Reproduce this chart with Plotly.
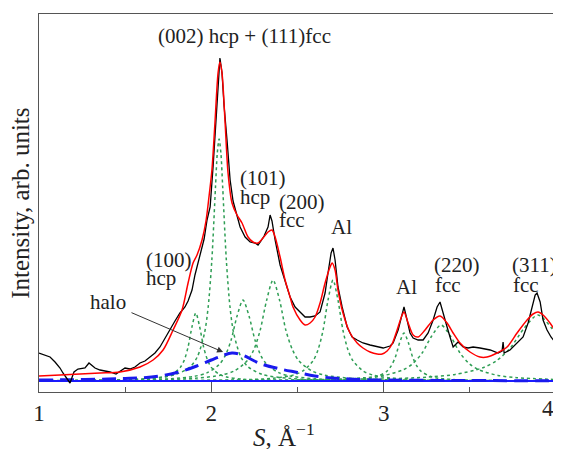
import plotly.graph_objects as go

# experimental pattern (black)
exp_s = [1.000, 1.035, 1.064, 1.093, 1.122, 1.139, 1.157, 1.180, 1.203, 1.226, 1.267, 1.290, 1.325, 1.354,
         1.383, 1.412, 1.447, 1.470, 1.499, 1.528, 1.557, 1.586, 1.615, 1.644, 1.673, 1.702, 1.731, 1.760,
         1.789, 1.818, 1.847, 1.865, 1.888, 1.905, 1.923, 1.940, 1.958, 1.975, 1.993, 2.010, 2.027, 2.039,
         2.050, 2.062, 2.074, 2.091, 2.109, 2.126, 2.143, 2.167, 2.196, 2.225, 2.254, 2.271, 2.288, 2.306,
         2.329, 2.341, 2.352, 2.370, 2.399, 2.428, 2.457, 2.486, 2.515, 2.544, 2.573, 2.602, 2.631, 2.660,
         2.677, 2.695, 2.706, 2.718, 2.735, 2.759, 2.788, 2.817, 2.846, 2.880, 2.921, 2.962, 2.997, 3.037,
         3.055, 3.084, 3.107, 3.118, 3.136, 3.153, 3.171, 3.200, 3.229, 3.258, 3.287, 3.310, 3.327, 3.345,
         3.368, 3.385, 3.403, 3.432, 3.461, 3.490, 3.519, 3.559, 3.618, 3.664, 3.687, 3.693, 3.699, 3.733,
         3.774, 3.809, 3.838, 3.861, 3.879, 3.890, 3.908, 3.925, 3.948, 3.971, 4.000]
exp_i = [28, 26, 24, 19, 13, 8, 3, -2, 9, 12, 13, 18, 13, 11,
         10, 9, 7, 10, 13, 12, 14, 18, 20, 24, 28, 34, 43, 51,
         60, 68, 74, 80, 91, 106, 118, 132, 142, 161, 174, 214, 262, 300,
         323, 308, 275, 241, 201, 180, 168, 154, 144, 139, 138, 136, 140, 145,
         154, 166, 160, 141, 116, 101, 84, 74, 69, 64, 64, 65, 69, 88,
         108, 128, 133, 121, 94, 74, 54, 44, 41, 38, 36, 34, 33, 35,
         38, 51, 68, 74, 61, 48, 43, 41, 41, 48, 61, 74, 79, 69,
         54, 44, 34, 39, 34, 33, 34, 33, 31, 28, 30, 39, 28, 31,
         38, 44, 58, 74, 86, 88, 79, 61, 51, 44, 38]

# total fit (red)
fit_s = [1.000, 1.122, 1.238, 1.354, 1.470, 1.586, 1.662, 1.720, 1.778, 1.830, 1.865, 1.894, 1.917, 1.946,
         1.969, 1.987, 2.004, 2.021, 2.039, 2.050, 2.062, 2.080, 2.097, 2.120, 2.149, 2.178, 2.213, 2.242,
         2.271, 2.300, 2.329, 2.352, 2.370, 2.399, 2.428, 2.457, 2.474, 2.515, 2.544, 2.573, 2.602, 2.631,
         2.660, 2.689, 2.701, 2.718, 2.735, 2.764, 2.805, 2.846, 2.880, 2.921, 2.962, 2.991, 3.020, 3.049,
         3.078, 3.107, 3.118, 3.142, 3.171, 3.200, 3.240, 3.287, 3.327, 3.368, 3.403, 3.443, 3.501, 3.559,
         3.600, 3.658, 3.716, 3.774, 3.832, 3.867, 3.896, 3.925, 3.965, 4.000]
fit_i = [5, 6, 7, 8, 9, 14, 21, 31, 51, 71, 98, 118, 126, 141,
         160, 185, 212, 258, 308, 319, 308, 258, 208, 178, 166, 158, 144, 139,
         138, 143, 149, 151, 144, 124, 101, 84, 74, 61, 56, 58, 64, 78,
         98, 114, 118, 111, 91, 68, 48, 38, 33, 29, 27, 27, 30, 37,
         51, 66, 69, 58, 46, 44, 51, 61, 65, 58, 48, 38, 29, 24,
         24, 28, 34, 48, 61, 67, 69, 66, 58, 49]

# fitted components (green dotted)
p100_s = [1.0, 1.46, 1.64, 1.73, 1.775, 1.82, 1.843, 1.865, 1.888, 1.91, 1.932, 1.955, 1.978, 2.0, 2.045,
          2.09, 2.18, 2.36, 2.81, 4.0]
p100_i = [0.1, 0.7, 1.8, 4.0, 6.8, 13.6, 20.9, 34, 54.4, 68, 54.4, 34, 20.9, 13.6, 6.8,
          4.0, 1.8, 0.7, 0.2, 0.0]
p002_s = [1.0, 1.205, 1.625, 1.793, 1.877, 1.919, 1.961, 1.982, 2.003, 2.024, 2.0345, 2.045, 2.0555, 2.066,
          2.087, 2.108, 2.129, 2.171, 2.213, 2.297, 2.465, 2.885, 4.0]
p002_i = [0.4, 0.6, 2.4, 6.5, 14.2, 24.2, 48.4, 74.5, 121, 193.6, 227.8, 242, 227.8, 193.6,
          121, 74.5, 48.4, 24.2, 14.2, 6.5, 2.4, 0.6, 0.1]
p101_s = [1.0, 1.484, 1.764, 1.904, 1.974, 2.044, 2.079, 2.114, 2.149, 2.184, 2.219, 2.254, 2.289, 2.324,
          2.394, 2.464, 2.604, 2.884, 3.584, 4.0]
p101_i = [0.3, 0.8, 2.2, 4.8, 8.1, 16.2, 24.9, 40.5, 64.8, 81, 64.8, 40.5, 24.9, 16.2,
          8.1, 4.8, 2.2, 0.8, 0.2, 0.1]
p200_s = [1.0, 1.608, 1.908, 2.058, 2.133, 2.208, 2.246, 2.283, 2.321, 2.358, 2.396, 2.433, 2.471, 2.508,
          2.583, 2.658, 2.808, 3.108, 3.858, 4.0]
p200_i = [0.3, 1.0, 2.7, 5.9, 10.1, 20.2, 31.1, 50.5, 80.8, 101, 80.8, 50.5, 31.1, 20.2,
          10.1, 5.9, 2.7, 1.0, 0.25, 0.2]
al1_s = [1.0, 1.546, 2.126, 2.358, 2.474, 2.532, 2.59, 2.619, 2.648, 2.677, 2.706, 2.735, 2.764, 2.793,
         2.822, 2.88, 2.938, 3.054, 3.286, 3.866, 4.0]
al1_i = [0.1, 0.25, 1.0, 2.7, 5.9, 10.1, 20.2, 31.1, 50.5, 80.8, 101, 80.8, 50.5, 31.1,
         20.2, 10.1, 5.9, 2.7, 1.0, 0.25, 0.2]
al2_s = [1.0, 2.118, 2.618, 2.818, 2.918, 2.968, 3.018, 3.043, 3.068, 3.093, 3.118, 3.143, 3.168, 3.193,
         3.218, 3.268, 3.318, 3.418, 3.618, 4.0]
al2_i = [0.0, 0.12, 0.48, 1.3, 2.8, 4.8, 9.6, 14.8, 24, 38.4, 48, 38.4, 24, 14.8,
         9.6, 4.8, 2.8, 1.3, 0.48, 0.15]
p220_s = [1.0, 1.133, 2.233, 2.673, 2.893, 3.003, 3.113, 3.168, 3.223, 3.278, 3.333, 3.388, 3.443, 3.498,
          3.553, 3.663, 3.773, 4.0]
p220_i = [0.1, 0.14, 0.55, 1.5, 3.3, 5.6, 11.2, 17.2, 28, 44.8, 56, 44.8, 28, 17.2,
          11.2, 5.6, 3.3, 1.5]
p311_s = [1.0, 2.295, 2.935, 3.255, 3.415, 3.575, 3.655, 3.735, 3.815, 3.895, 3.975, 4.0]
p311_i = [0.2, 0.65, 1.8, 3.9, 6.6, 13.2, 20.3, 33, 52.8, 66, 52.8, 46]

# amorphous halo (blue dashed)
halo_s = [1.0, 1.2, 1.4, 1.5, 1.6, 1.7, 1.8, 1.9, 2.0, 2.06, 2.12, 2.18, 2.25, 2.3, 2.4, 2.5, 2.6, 2.7,
          2.8, 2.9, 3.0, 3.3, 3.6, 4.0]
halo_i = [1.0, 1.3, 2.0, 2.5, 3.2, 5.0, 8.5, 14, 21, 25, 28, 26, 20, 16.5, 12, 8.5, 5, 3,
          2, 1.3, 1.0, 0.6, 0.4, 0.3]

base_s = [1.0, 4.0]
base_i = [0, 0]

tick_vals = [1, 2, 3, 4]
tick_text = ["1", "2", "3", ""]   # the "4" sits inside the frame edge, drawn below

# peak labels: text, S, intensity, anchor
labels = [
    ("(002) hcp + (111)fcc", 2.190, 345, "center"),
    ("(101)", 2.161, 203, "left"), ("hcp", 2.161, 184, "left"),
    ("(200)", 2.387, 179, "left"), ("fcc", 2.387, 161, "left"),
    ("Al", 2.753, 154, "center"),
    ("(100)", 1.615, 121, "left"), ("hcp", 1.615, 103, "left"),
    ("halo", 1.400, 79, "center"),
    ("Al", 3.130, 94, "center"),
    ("(220)", 3.287, 116, "left"), ("fcc", 3.290, 96, "left"),
    ("(311)", 3.739, 116, "left"), ("fcc", 3.742, 96, "left"),
]

SERIF = "Liberation Serif"
GREEN = "#2f9e55"
fig = go.Figure()

for xs, ys in [(p100_s, p100_i), (p002_s, p002_i), (p101_s, p101_i), (p200_s, p200_i),
               (al1_s, al1_i), (al2_s, al2_i), (p220_s, p220_i), (p311_s, p311_i)]:
    fig.add_trace(go.Scatter(x=xs, y=ys, mode="lines",
                             line=dict(color=GREEN, width=1.5, dash="dot", shape="spline", smoothing=0.8)))

fig.add_trace(go.Scatter(x=base_s, y=base_i, mode="lines", line=dict(color="#1a1aff", width=2)))
fig.add_trace(go.Scatter(x=halo_s, y=halo_i, mode="lines",
                         line=dict(color="#1a1aee", width=3, dash="14px,7px", shape="spline")))
fig.add_trace(go.Scatter(x=exp_s, y=exp_i, mode="lines", line=dict(color="black", width=1.3)))
fig.add_trace(go.Scatter(x=fit_s, y=fit_i, mode="lines",
                         line=dict(color="#ff0000", width=1.5, shape="spline", smoothing=0.8)))

for txt, sx, iy, anc in labels:
    fig.add_annotation(x=sx, y=iy, text=txt, showarrow=False, xanchor=anc, yanchor="middle",
                       font=dict(family=SERIF, size=21, color="#222"), borderpad=0)

# arrow pointing at the halo
fig.add_annotation(x=2.068, y=29, ax=1.528, ay=69, axref="x", ayref="y", text="",
                   showarrow=True, arrowhead=2, arrowsize=1.2, arrowwidth=1, arrowcolor="#333")

# last tick label, kept inside the right edge
fig.add_annotation(xref="paper", yref="paper", x=1.0, y=-0.044, xanchor="right", yanchor="middle",
                   text="4", showarrow=False, font=dict(family=SERIF, size=23, color="#222"))

# axis titles
fig.add_annotation(xref="paper", yref="paper", x=0.474, y=-0.114, xanchor="center", yanchor="middle",
                   text="<i>S</i>, Å<sup>−1</sup>", showarrow=False,
                   font=dict(family=SERIF, size=25, color="#222"))
fig.add_annotation(xref="paper", yref="paper", x=-0.037, y=0.5, xanchor="center", yanchor="middle",
                   text="Intensity, arb. units", textangle=-90, showarrow=False,
                   font=dict(family=SERIF, size=25, color="#222"))

# page body adds an 8px margin, so the figure is 8px smaller than the window
fig.update_layout(
    width=553, height=441,
    margin=dict(l=31, r=5, t=6, b=57),
    paper_bgcolor="white", plot_bgcolor="white",
    showlegend=False,
    font=dict(family=SERIF, color="#222"),
    xaxis=dict(range=[1, 4], tickvals=tick_vals, ticktext=tick_text, ticks="inside", ticklen=10,
               tickcolor="#555", minor=dict(dtick=0.5, ticklen=5, ticks="inside", tickcolor="#555"),
               showline=True, mirror=True, linecolor="#555", linewidth=1.2, showgrid=False, zeroline=False,
               tickfont=dict(family=SERIF, size=23), automargin=False, ticklabeloverflow="allow"),
    yaxis=dict(range=[-11, 367], showticklabels=False, ticks="", showline=True, mirror=True,
               linecolor="#555", linewidth=1.2, showgrid=False, zeroline=False, automargin=False),
)

fig.write_html("out.html")
